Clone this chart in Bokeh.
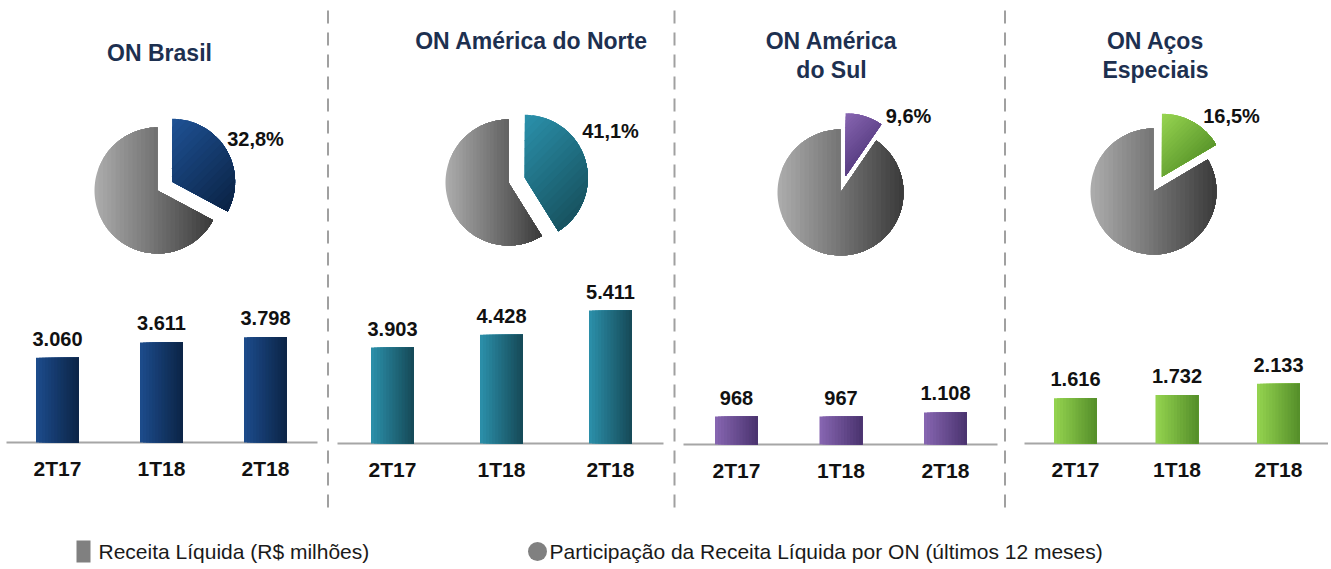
import math
from bokeh.plotting import figure
from bokeh.models import Range1d
from bokeh.core.properties import value
from bokeh.embed import file_html
from bokeh.resources import INLINE

# ---------------- data ----------------
categories = ["2T17", "1T18", "2T18"]
segment_titles = ["ON Brasil", "ON América do Norte", "ON América\ndo Sul", "ON Aços\nEspeciais"]
revenue_brasil = [3060, 3611, 3798]
revenue_norte = [3903, 4428, 5411]
revenue_sul = [968, 967, 1108]
revenue_acos = [1616, 1732, 2133]
share_pct = [32.8, 41.1, 9.6, 16.5]
legend_labels = ["Receita Líquida (R$ milhões)",
                 "Participação da Receita Líquida por ON (últimos 12 meses)"]

revenues = [revenue_brasil, revenue_norte, revenue_sul, revenue_acos]


def fmt_int(v):
    return f"{v:,}".replace(",", ".")


def fmt_pct(v):
    return f"{v:.1f}%".replace(".", ",")


# ---------------- layout / style ----------------
W, H = 1328, 566
FONT = value("Liberation Sans")


def X(px):
    return px


def Y(py):
    return H - py


def hex2rgb(h):
    h = h.lstrip("#")
    return tuple(int(h[i:i + 2], 16) for i in (0, 2, 4))


def mix(c1, c2, t):
    a, b = hex2rgb(c1), hex2rgb(c2)
    return "#%02x%02x%02x" % tuple(round(a[i] + (b[i] - a[i]) * t) for i in range(3))


def sector_polygon(cx, cy, r, a0, a1, n=120):
    pts = [(cx, cy)]
    for k in range(n + 1):
        a = a0 + (a1 - a0) * k / n
        pts.append((cx + r * math.cos(a), cy + r * math.sin(a)))
    return pts


def clip_halfplane(poly, d, t):
    """Keep the part of poly where dot(p, d) >= t (Sutherland-Hodgman, one edge)."""
    out = []
    n = len(poly)
    for k in range(n):
        p1, p2 = poly[k], poly[(k + 1) % n]
        v1 = p1[0] * d[0] + p1[1] * d[1] - t
        v2 = p2[0] * d[0] + p2[1] * d[1] - t
        if v1 >= 0:
            out.append(p1)
        if (v1 >= 0) != (v2 >= 0):
            f = v1 / (v1 - v2)
            out.append((p1[0] + f * (p2[0] - p1[0]), p1[1] + f * (p2[1] - p1[1])))
    return out


def gradient_sector(fig, cx, cy, r, a0, a1, d, c_from, c_to, layers):
    poly = sector_polygon(cx, cy, r, a0, a1)
    dots = [q[0] * d[0] + q[1] * d[1] for q in poly]
    tmin, tmax = min(dots), max(dots)
    xs_l, ys_l, cols = [], [], []
    for s in range(layers):
        t = tmin + (tmax - tmin) * s / layers
        part = poly if s == 0 else clip_halfplane(poly, d, t)
        if len(part) < 3:
            continue
        xs_l.append([q[0] for q in part])
        ys_l.append([q[1] for q in part])
        cols.append(mix(c_from, c_to, s / (layers - 1)))
    fig.patches(xs=xs_l, ys=ys_l, fill_color=cols, line_color=None)


panels = [
    dict(cx0=57, step=104, base=442, k=36.1, axis=(6, 317), title=(159, 52),
         pie=(157, 190), pct=(255, 138), bar=("#1c4b8a", "#0c2548"),
         slice=("#1e5193", "#0b2447")),
    dict(cx0=392, step=109, base=443, k=40.7, axis=(337, 663), title=(531, 40),
         pie=(508, 182), pct=(610, 130), bar=("#2b8ea8", "#164b59"),
         slice=("#2a90aa", "#185462")),
    dict(cx0=736, step=104.5, base=444, k=34.6, axis=(683, 997), title=(831, 55),
         pie=(840, 192), pct=(908, 115), bar=("#8665b0", "#4b3470"),
         slice=("#8765b1", "#5a3f84")),
    dict(cx0=1075, step=101.5, base=443, k=35.7, axis=(1024, 1328), title=(1155, 55),
         pie=(1153, 191), pct=(1231, 115), bar=("#93d24f", "#56902a"),
         slice=("#96d450", "#5c982c")),
]
separators = [327.5, 674, 1004.5]
GRAY_PIE = ("#ababab", "#3c3c3c")
TITLE_COLOR = "#1d3050"
BAR_W = 43
PIE_R = 63
EXPLODE = 17
N_STRIPS = 14
PIE_LAYERS = 28
DIAG = (math.sqrt(0.5), -math.sqrt(0.5))

p = figure(width=W, height=H, x_range=Range1d(0, W), y_range=Range1d(0, H),
           output_backend="svg", toolbar_location=None, min_border=0,
           x_axis_type=None, y_axis_type=None)
p.grid.visible = False
p.outline_line_color = None
p.background_fill_color = "white"
p.border_fill_color = "white"

# separators
for sx in separators:
    p.segment(x0=[X(sx)], y0=[Y(10)], x1=[X(sx)], y1=[Y(512)],
              line_color="#a0a0a0", line_width=2, line_dash="13 9")

for i, (pn, vals, title, share) in enumerate(zip(panels, revenues, segment_titles, share_pct)):
    xr, yr = f"x{i}", f"y{i}"
    bx = X(pn["cx0"])
    by = Y(pn["base"])
    p.extra_x_ranges[xr] = Range1d(-bx / pn["step"], (W - bx) / pn["step"])
    p.extra_y_ranges[yr] = Range1d(-by * pn["k"], (H - by) * pn["k"])

    xs = list(range(len(categories)))
    # baseline
    a0, a1 = pn["axis"]
    p.segment(x0=[X(a0)], y0=[by], x1=[X(a1)], y1=[by], line_color="#a6a6a6", line_width=2)
    # bars: horizontal gradient, layered so each layer covers from its left edge to the bar's right edge
    bw = BAR_W / pn["step"]
    for s in range(N_STRIPS):
        t = s / (N_STRIPS - 1)
        col = mix(pn["bar"][0], pn["bar"][1], t)
        left = -bw / 2 + s * bw / N_STRIPS
        right = bw / 2
        p.vbar(x=[x + (left + right) / 2 for x in xs], top=vals, bottom=0,
               width=right - left, fill_color=col, line_color=None,
               x_range_name=xr, y_range_name=yr)
    # value labels
    p.text(x=xs, y=vals, text=[fmt_int(v) for v in vals], x_range_name=xr, y_range_name=yr,
           y_offset=-19, text_align="center", text_baseline="middle", text_font=FONT,
           text_font_style="bold", text_font_size="20px", text_color="#111111")
    # category labels
    p.text(x=xs, y=[0] * len(xs), text=categories, x_range_name=xr, y_range_name=yr,
           y_offset=26, text_align="center", text_baseline="middle", text_font=FONT,
           text_font_style="bold", text_font_size="21px", text_color="#111111")
    # title
    tx, ty = pn["title"]
    p.text(x=[X(tx)], y=[Y(ty)], text=[title], text_align="center", text_baseline="middle",
           text_font=FONT, text_font_style="bold", text_font_size="23px",
           text_color=TITLE_COLOR, text_line_height=1.15)
    # pie: rest (gray, horizontal gradient) + exploded segment slice (diagonal gradient)
    frac = share / 100.0
    cx, cy = X(pn["pie"][0]), Y(pn["pie"][1])
    start = math.pi / 2 - 2 * math.pi * frac
    mid = math.pi / 2 - math.pi * frac
    gradient_sector(p, cx, cy, PIE_R, math.pi / 2, start + 2 * math.pi, (1.0, 0.0),
                    GRAY_PIE[0], GRAY_PIE[1], PIE_LAYERS)
    gradient_sector(p, cx + EXPLODE * math.cos(mid), cy + EXPLODE * math.sin(mid), PIE_R,
                    start, math.pi / 2, DIAG, pn["slice"][0], pn["slice"][1], 18)
    px_, py_ = pn["pct"]
    p.text(x=[X(px_)], y=[Y(py_)], text=[fmt_pct(share)], text_align="center",
           text_baseline="middle", text_font=FONT, text_font_style="bold",
           text_font_size="20px", text_color="#111111")

# legend
p.quad(left=[X(76)], right=[X(90)], bottom=[Y(562)], top=[Y(540)],
       fill_color="#808080", line_color=None)
p.text(x=[X(98)], y=[Y(551)], text=[legend_labels[0]], text_align="left",
       text_baseline="middle", text_font=FONT, text_font_size="21px", text_color="#1a1a1a")
p.scatter(x=[X(537)], y=[Y(551)], marker="circle", size=19, fill_color="#808080",
          line_color=None)
p.text(x=[X(549)], y=[Y(551)], text=[legend_labels[1]], text_align="left",
       text_baseline="middle", text_font=FONT, text_font_size="21px", text_color="#1a1a1a")

open("out.html", "w").write(file_html(p, INLINE))
